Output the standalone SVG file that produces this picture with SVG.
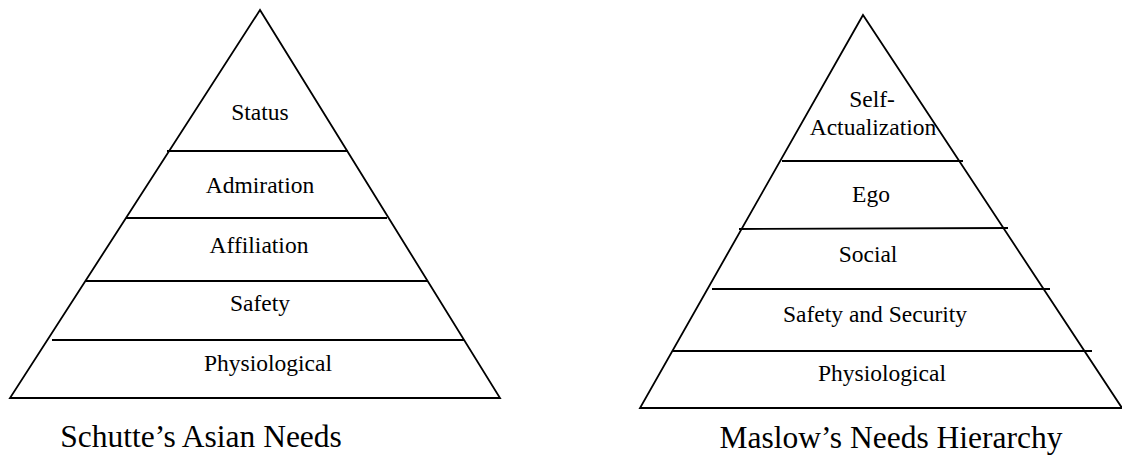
<svg xmlns="http://www.w3.org/2000/svg" width="1122" height="458" viewBox="0 0 1122 458">
<style>
.edge{fill:none;stroke:#000;stroke-width:1.8;stroke-linejoin:miter}
.div{stroke:#000;stroke-width:1.8}
.lbl{font-family:"Liberation Serif","Times New Roman",serif;font-size:23.5px;fill:#000;text-anchor:middle}
.cap{font-family:"Liberation Serif","Times New Roman",serif;font-size:31.5px;fill:#000;text-anchor:middle}
</style>
<rect width="1122" height="458" fill="#fff"/>
<g id="schutte">
<polygon class="edge" points="260,10 10,398 500,398"/>
<g id="schutte-dividers">
<line class="div" x1="167" y1="151" x2="348" y2="151"/>
<line class="div" x1="126" y1="218" x2="387" y2="218"/>
<line class="div" x1="86" y1="281" x2="428" y2="281"/>
<line class="div" x1="52" y1="340" x2="464" y2="340"/>
</g>
<text class="lbl" x="260" y="120">Status</text>
<text class="lbl" x="260" y="193">Admiration</text>
<text class="lbl" x="259" y="253">Affiliation</text>
<text class="lbl" x="260" y="311">Safety</text>
<text class="lbl" x="268" y="371">Physiological</text>
<text class="cap" x="201" y="447">Schutte’s Asian Needs</text>
</g>
<g id="maslow">
<polygon class="edge" points="863,15 640,408 1122,408"/>
<g id="maslow-dividers">
<line class="div" x1="782" y1="161" x2="963" y2="161"/>
<line class="div" x1="739" y1="229" x2="1008" y2="228"/>
<line class="div" x1="712" y1="289" x2="1050" y2="289"/>
<line class="div" x1="673" y1="351" x2="1092" y2="351"/>
</g>
<text class="lbl" x="872" y="107">Self-</text>
<text class="lbl" x="873" y="135">Actualization</text>
<text class="lbl" x="871" y="202">Ego</text>
<text class="lbl" x="868" y="262">Social</text>
<text class="lbl" x="875" y="322">Safety and Security</text>
<text class="lbl" x="882" y="381">Physiological</text>
<text class="cap" x="891" y="448">Maslow’s Needs Hierarchy</text>
</g>
</svg>
